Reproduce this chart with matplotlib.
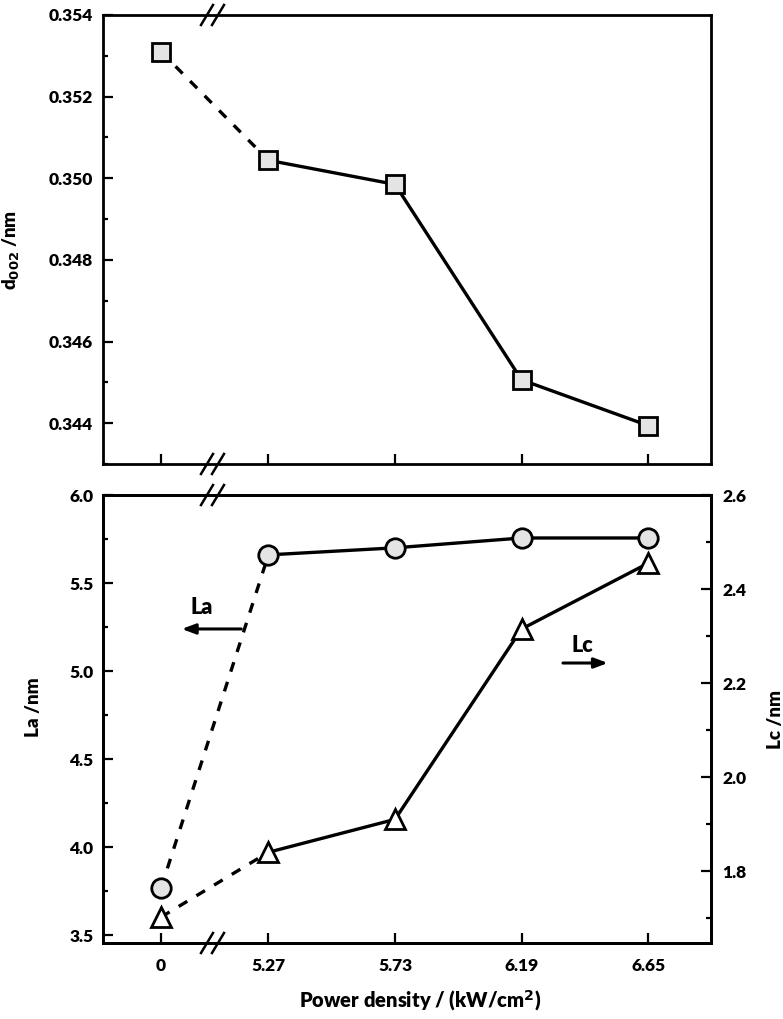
import numpy as np
import matplotlib
matplotlib.use("Agg")
import matplotlib.pyplot as plt
from matplotlib.ticker import MultipleLocator, FormatStrFormatter

plt.rcParams['font.family'] = ['Lato', 'DejaVu Sans']
plt.rcParams['font.weight'] = 'heavy'

# power density (kW/cm2), 0 sits left of the axis break
power = [0, 5.27, 5.73, 6.19, 6.65]
power_labels = ["0", "5.27", "5.73", "6.19", "6.65"]
d002 = [0.35310, 0.35044, 0.34985, 0.34506, 0.34394]
La = [3.767, 5.66, 5.70, 5.756, 5.756]
Lc = [1.702, 1.84, 1.91, 2.315, 2.455]

def xmap(p):
    # broken axis: put 0 just before 5.27
    p = np.asarray(p, dtype=float)
    return np.where(p == 0, 5.27 - 0.39, p)

xs = xmap(power)
xlim = (4.669, 6.878)

def style_axis(ax):
    for s in ax.spines.values():
        s.set_linewidth(2)
    ax.tick_params(which='both', direction='in', width=1.6, labelsize=12.5)
    ax.tick_params(which='major', length=7)
    ax.tick_params(which='minor', length=3.5)
    ax.tick_params(axis='y', which='major', pad=7)
    ax.tick_params(axis='x', which='major', pad=11)

def break_marks(ax, xf, yf):
    w, h = ax.get_window_extent().width, ax.get_window_extent().height
    dx, dy = 6.0 / w, 10.0 / h
    off = 5.5 / w
    for o in (-off, off):
        ax.plot([xf + o - dx, xf + o + dx], [yf - dy, yf + dy], color='black',
                lw=1.8, transform=ax.transAxes, clip_on=False, zorder=10)

def seg_plot(ax, x, y, marker, ms, fc):
    ax.plot(x[:2], y[:2], color='black', lw=2.4, ls=(0, (3, 3.2)), zorder=2)
    ax.plot(x[1:], y[1:], color='black', lw=2.4, ls='-', zorder=2)
    ax.plot(x, y, ls='none', marker=marker, ms=ms, mfc=fc, mec='black', mew=2, zorder=3)

fig = plt.figure(figsize=(7.83, 10.19), dpi=100)
ax1 = fig.add_axes([0.1315, 0.5447, 0.7765, 0.4406])
ax2 = fig.add_axes([0.1315, 0.0746, 0.7765, 0.4396])

# top panel: d002
seg_plot(ax1, xs, d002, 's', 13, '#e4e4e4')
ax1.set_xlim(*xlim)
ax1.set_ylim(0.343, 0.354)
ax1.set_xticks(xs)
ax1.set_xticklabels([])
ax1.yaxis.set_major_locator(MultipleLocator(0.002))
ax1.yaxis.set_minor_locator(MultipleLocator(0.001))
ax1.yaxis.set_major_formatter(FormatStrFormatter('%.3f'))
style_axis(ax1)
ax1.set_ylabel(r'd$_{\mathbf{002}}$ /nm', fontsize=13.5, fontweight='heavy')
ax1.yaxis.set_label_coords(-0.133, 0.477)

# bottom panel: La (left) and Lc (right)
seg_plot(ax2, xs, La, 'o', 14, '#e4e4e4')
ax2.set_xlim(*xlim)
ax2.set_ylim(3.455, 6.0)
ax2.set_xticks(xs)
ax2.set_xticklabels(power_labels)
ax2.yaxis.set_major_locator(MultipleLocator(0.5))
ax2.yaxis.set_minor_locator(MultipleLocator(0.25))
ax2.yaxis.set_major_formatter(FormatStrFormatter('%.1f'))
style_axis(ax2)
ax2.set_ylabel('La /nm', fontsize=13.5, fontweight='heavy')
ax2.yaxis.set_label_coords(-0.10, 0.527)
ax2.set_xlabel('Power density / (kW/cm$^{\\mathbf{2}}$)', fontsize=14.5, fontweight='heavy')
ax2.xaxis.set_label_coords(0.521, -0.10)

ax3 = ax2.twinx()
seg_plot(ax3, xs, Lc, '^', 15, 'white')
ax3.set_xlim(*xlim)
ax3.set_ylim(1.647, 2.6)
ax3.yaxis.set_major_locator(MultipleLocator(0.2))
ax3.yaxis.set_minor_locator(MultipleLocator(0.1))
ax3.yaxis.set_major_formatter(FormatStrFormatter('%.1f'))
style_axis(ax3)
ax3.tick_params(axis='y', which='major', pad=8)
ax3.set_ylabel('Lc /nm', fontsize=13.5, fontweight='heavy')
ax3.yaxis.set_label_coords(1.092, 0.498)

# La / Lc arrows
ax2.text(0.163, 0.75, 'La', transform=ax2.transAxes, fontsize=15.5, fontweight='heavy',
         ha='center', va='center')
ax2.annotate('', xy=(0.125, 0.701), xytext=(0.232, 0.701), xycoords='axes fraction',
             arrowprops=dict(arrowstyle='-|>,head_length=0.8,head_width=0.3', lw=2.2, color='black'))
ax2.text(0.788, 0.665, 'Lc', transform=ax2.transAxes, fontsize=15.5, fontweight='heavy',
         ha='center', va='center')
ax2.annotate('', xy=(0.835, 0.625), xytext=(0.752, 0.625), xycoords='axes fraction',
             arrowprops=dict(arrowstyle='-|>,head_length=0.8,head_width=0.3', lw=2.2, color='black'))

# axis break marks
bx = (xmap([5.27])[0] - 0.203 - xlim[0]) / (xlim[1] - xlim[0])
for a in (ax1, ax2):
    break_marks(a, bx, 0.0)
    break_marks(a, bx, 1.0)

fig.savefig('out.png', dpi=100)
